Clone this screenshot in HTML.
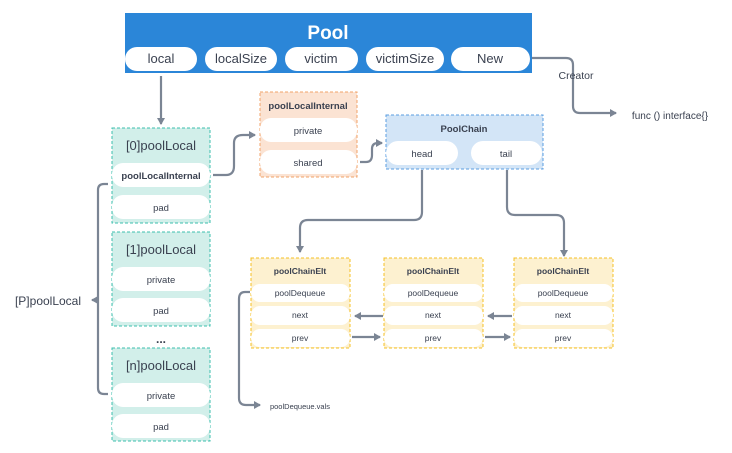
<!DOCTYPE html>
<html><head><meta charset="utf-8"><style>
html,body{margin:0;padding:0;background:#fff;}
svg{display:block;}
text{font-family:"Liberation Sans","DejaVu Sans",sans-serif;text-anchor:middle;fill:#3a4150;}
.b{font-weight:bold;}
</style></head><body>
<svg width="732" height="453" viewBox="0 0 732 453" xmlns="http://www.w3.org/2000/svg">
<defs>
<marker id="ar" markerWidth="8" markerHeight="8" refX="6" refY="4" orient="auto" markerUnits="userSpaceOnUse">
<path d="M0,0 L7,4 L0,8 Z" fill="#7b8594"/></marker>
</defs>
<g fill="none" stroke="#7b8594" stroke-width="2.2">
<path d="M161,76 V124" marker-end="url(#ar)"/>
<path d="M531,58 H566 Q573,58 573,65 V106 Q573,113 580,113 H616" marker-end="url(#ar)"/>
<path d="M213,175 H226 Q234,175 234,166 V143 Q234,135 243,135 H255" marker-end="url(#ar)"/>
<path d="M360,162 H366 Q372,162 372,155 V149 Q372,143 378,143 H382" marker-end="url(#ar)"/>
<path d="M422,170 V212 Q422,220 414,220 H308 Q300,220 300,228 V252" marker-end="url(#ar)"/>
<path d="M507,170 V207 Q507,215 515,215 H556 Q564,215 564,223 V256" marker-end="url(#ar)"/>
<path d="M383,316 H355" marker-end="url(#ar)"/>
<path d="M512,316 H488" marker-end="url(#ar)"/>
<path d="M352,337 H380" marker-end="url(#ar)"/>
<path d="M485,337 H510" marker-end="url(#ar)"/>
<path d="M250,292 H245 Q239,292 239,299 V398 Q239,405 246,405 H260" marker-end="url(#ar)"/>
<path d="M108,184 H104 Q98,184 98,190 V388 Q98,394 104,394 H108"/>
<path d="M98,300 H92" marker-end="url(#ar)"/>
</g>
<rect x="125" y="13" width="407" height="60" fill="#2b86d8"/>
<text x="328" y="39" class="b" font-size="19" style="fill:#fff">Pool</text>
<g fill="#fff">
<rect x="125" y="47" width="72" height="24" rx="12"/>
<rect x="205" y="47" width="72" height="24" rx="12"/>
<rect x="285" y="47" width="73" height="24" rx="12"/>
<rect x="366" y="47" width="78" height="24" rx="12"/>
<rect x="451" y="47" width="79" height="24" rx="12"/>
</g>
<g font-size="13">
<text x="161" y="63">local</text><text x="241" y="63">localSize</text><text x="321" y="63">victim</text><text x="405" y="63">victimSize</text><text x="490" y="63">New</text>
</g>
<text x="576" y="79" font-size="10.5">Creator</text>
<text x="670" y="119" font-size="10">func () interface{}</text>
<g stroke="#3cbfae" stroke-dasharray="3,2" fill="#d2efea">
<rect x="112" y="128" width="98" height="95"/>
<rect x="112" y="232" width="98" height="94"/>
<rect x="112" y="348" width="98" height="93"/>
</g>
<g fill="#fff">
<rect x="112" y="163" width="98" height="24" rx="11"/><rect x="112" y="195" width="98" height="24" rx="11"/>
<rect x="112" y="267" width="98" height="24" rx="11"/><rect x="112" y="298" width="98" height="24" rx="11"/>
<rect x="112" y="383" width="98" height="24" rx="11"/><rect x="112" y="414" width="98" height="24" rx="11"/>
</g>
<g font-size="13"><text x="161" y="150">[0]poolLocal</text><text x="161" y="254">[1]poolLocal</text><text x="161" y="370">[n]poolLocal</text></g>
<text x="161" y="179" font-size="9.5" class="b">poolLocalInternal</text>
<g font-size="9.5"><text x="161" y="211">pad</text><text x="161" y="283">private</text><text x="161" y="314">pad</text><text x="161" y="399">private</text><text x="161" y="430">pad</text></g>
<text x="161" y="343" font-size="12" class="b">...</text>
<text x="48" y="305" font-size="12">[P]poolLocal</text>
<rect x="260" y="92" width="97" height="85" fill="#fbe3d3" stroke="#f2a36a" stroke-dasharray="3,2"/>
<rect x="260" y="118" width="97" height="24" rx="11" fill="#fff"/><rect x="260" y="150" width="97" height="24" rx="11" fill="#fff"/>
<text x="308" y="109" font-size="9.5" class="b">poolLocalInternal</text>
<text x="308" y="134" font-size="9.5">private</text><text x="308" y="166" font-size="9.5">shared</text>
<rect x="386" y="115" width="157" height="54" fill="#d3e5f7" stroke="#5b9ee0" stroke-dasharray="3,2"/>
<rect x="386" y="141" width="72" height="24" rx="12" fill="#fff"/><rect x="471" y="141" width="71" height="24" rx="12" fill="#fff"/>
<text x="464" y="132" font-size="9.5" class="b">PoolChain</text>
<text x="422" y="157" font-size="9.5">head</text><text x="506" y="157" font-size="9.5">tail</text>
<g id="e">
<rect x="251" y="258" width="99" height="90" fill="#fdf1d0" stroke="#f5c025" stroke-dasharray="3,2"/>
<rect x="251" y="284" width="99" height="18" rx="9" fill="#fff"/><rect x="251" y="306" width="99" height="19" rx="9" fill="#fff"/><rect x="251" y="329" width="99" height="18" rx="9" fill="#fff"/>
<text x="300" y="274" font-size="8.5" class="b">poolChainElt</text>
<text x="300" y="296" font-size="8.5">poolDequeue</text><text x="300" y="318" font-size="8.5">next</text><text x="300" y="341" font-size="8.5">prev</text>
</g>
<use href="#e" x="133"/>
<use href="#e" x="263"/>
<text x="300" y="409" font-size="7.5">poolDequeue.vals</text>
</svg>
</body></html>
